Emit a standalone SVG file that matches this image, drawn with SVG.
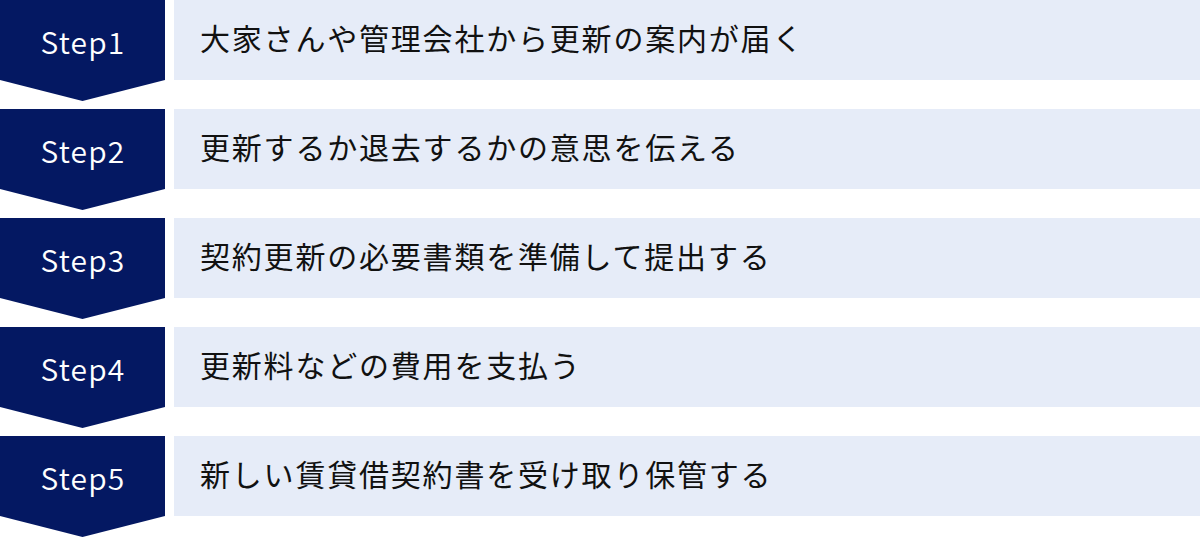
<svg xmlns="http://www.w3.org/2000/svg" width="1200" height="538" viewBox="0 0 1200 538">
<defs>
<style>
.badge{fill:#041862}
.bar{fill:#E6ECF8}
.step{font-family:"Noto Sans CJK JP","Noto Sans",sans-serif;font-size:30px;font-weight:350;fill:#FFFFFF;text-anchor:middle;letter-spacing:1.2px}
.lbl{font-family:"Noto Sans CJK JP",sans-serif;font-size:30px;fill:#111111;letter-spacing:1.8px}
</style>
<path id="chev" d="M0 0 H165 V80 L82.5 101 L0 80 Z"/>
</defs>
<rect width="1200" height="538" fill="#FFFFFF"/>
<g id="connectors"></g>
<g id="step1">
<use href="#chev" class="badge"/>
<rect class="bar" x="174" y="0" width="1026" height="80"/>
<text class="step" x="83" y="53.5">Step1</text>
<text class="lbl" x="200" y="50">大家さんや管理会社から更新の案内が届く</text>
</g>
<g id="step2" transform="translate(0,109)">
<use href="#chev" class="badge"/>
<rect class="bar" x="174" y="0" width="1026" height="80"/>
<text class="step" x="83" y="53.5">Step2</text>
<text class="lbl" x="200" y="50">更新するか退去するかの意思を伝える</text>
</g>
<g id="step3" transform="translate(0,218)">
<use href="#chev" class="badge"/>
<rect class="bar" x="174" y="0" width="1026" height="80"/>
<text class="step" x="83" y="53.5">Step3</text>
<text class="lbl" x="200" y="50">契約更新の必要書類を準備して提出する</text>
</g>
<g id="step4" transform="translate(0,327)">
<use href="#chev" class="badge"/>
<rect class="bar" x="174" y="0" width="1026" height="80"/>
<text class="step" x="83" y="53.5">Step4</text>
<text class="lbl" x="200" y="50">更新料などの費用を支払う</text>
</g>
<g id="step5" transform="translate(0,436)">
<use href="#chev" class="badge"/>
<rect class="bar" x="174" y="0" width="1026" height="80"/>
<text class="step" x="83" y="53.5">Step5</text>
<text class="lbl" x="200" y="50">新しい賃貸借契約書を受け取り保管する</text>
</g>
</svg>
